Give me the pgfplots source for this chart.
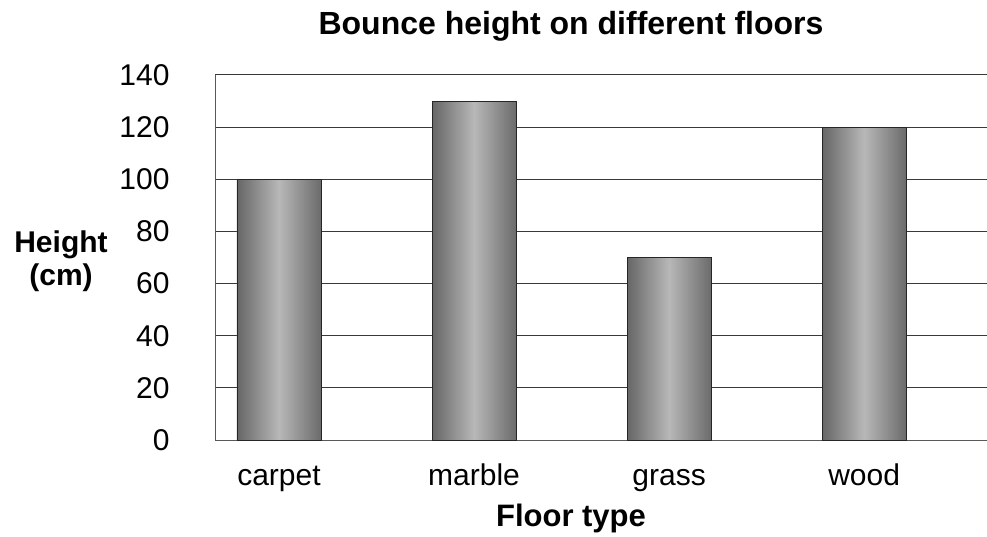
\documentclass[border=0pt]{standalone}
\usepackage{fontspec}
\setmainfont{Liberation Sans}
\usepackage{pgfplots}
\pgfplotsset{compat=1.18}
\begin{document}
\begin{tikzpicture}[x=1pt,y=1pt]
\useasboundingbox (0,0) rectangle (987,536);
\begin{axis}[
  at={(215pt,96pt)}, anchor=south west,
  scale only axis, width=772pt, height=365pt,
  xmin=-0.328, xmax=3.63,
  ymin=0, ymax=140,
  ytick={0,20,...,140},
  xtick={0,1,2,3},
  xticklabels={carpet,marble,grass,wood},
  axis x line*=bottom, axis y line*=left,
  axis line style={gray!70!black, line width=0.9pt, -},
  major tick length=0pt,
  ymajorgrids,
  grid style={gray!45!black, line width=1pt},
  tick label style={font=\fontsize{30}{36}\selectfont},
  /pgf/number format/assume math mode=true,
  yticklabel style={anchor=east, xshift=-42pt},
  xticklabel style={anchor=base, yshift=-45pt},
  xticklabel shift=0pt, yticklabel shift=0pt,
  clip=false,
  barstyle/.style={ybar, bar width=84pt, bar shift=0pt, draw=black!85, line width=0.9pt,
    left color=black!60, right color=black!58, middle color=black!28},
]
\addplot[barstyle] coordinates {(0,100)};
\addplot[barstyle] coordinates {(1,130)};
\addplot[barstyle] coordinates {(2,70)};
\addplot[barstyle] coordinates {(3,120)};
\end{axis}
\node[font=\fontsize{32}{38}\selectfont\bfseries, anchor=base] at (571,501) {Bounce height on different floors};
\node[font=\fontsize{31}{37}\selectfont\bfseries, anchor=base] at (571,10) {Floor type};
\node[font=\fontsize{30}{36}\selectfont\bfseries, anchor=base] at (61,283) {Height};
\node[font=\fontsize{30}{36}\selectfont\bfseries, anchor=base] at (61,251) {(cm)};
\end{tikzpicture}
\end{document}
